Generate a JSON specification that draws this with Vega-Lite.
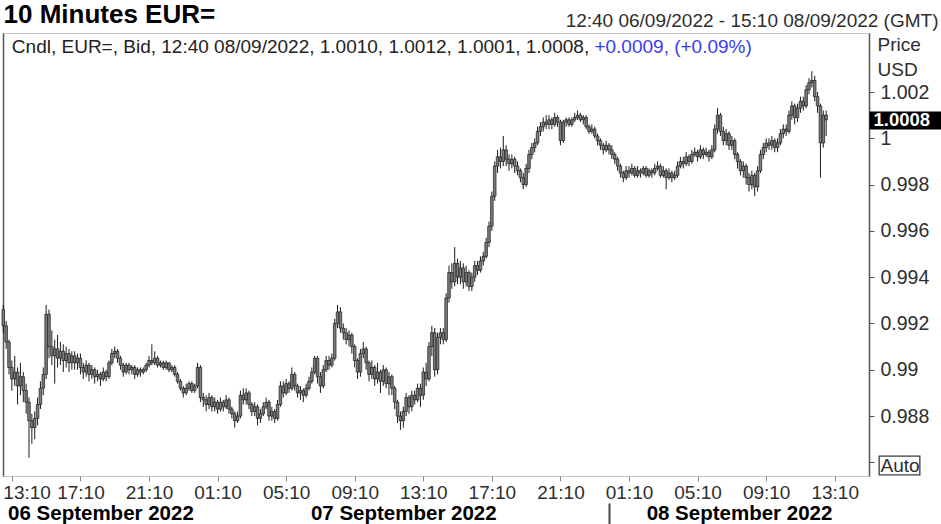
{
"$schema":"https://vega.github.io/schema/vega-lite/v6.json",
"width":866,"height":443,
"autosize":{"type":"none"},
"padding":{"left":3,"top":33,"right":72,"bottom":48},
"background":"white",
"config":{"font":"Liberation Sans","view":{"stroke":"#c4c4c4","strokeWidth":1},"axis":{"labelFont":"Liberation Sans","titleFont":"Liberation Sans","grid":false,"labelLimit":1000},"scale":{"continuousPadding":0},"text":{"font":"Liberation Sans"}},
"datasets":{
"candles":[
{"t":"2022-09-06T12:40","o":0.9926,"h":0.9928,"l":0.9916,"c":0.9919},
{"t":"2022-09-06T12:50","o":0.9919,"h":0.9921,"l":0.9909,"c":0.9912},
{"t":"2022-09-06T13:00","o":0.9912,"h":0.9913,"l":0.9898,"c":0.9901},
{"t":"2022-09-06T13:10","o":0.9901,"h":0.9904,"l":0.9891,"c":0.9896},
{"t":"2022-09-06T13:20","o":0.9896,"h":0.9906,"l":0.9893,"c":0.9899},
{"t":"2022-09-06T13:30","o":0.9899,"h":0.9901,"l":0.9885,"c":0.9893},
{"t":"2022-09-06T13:40","o":0.9893,"h":0.9903,"l":0.9889,"c":0.9897},
{"t":"2022-09-06T13:50","o":0.9897,"h":0.9899,"l":0.9886,"c":0.9891},
{"t":"2022-09-06T14:00","o":0.9891,"h":0.9894,"l":0.9881,"c":0.9886},
{"t":"2022-09-06T14:10","o":0.9886,"h":0.9888,"l":0.9862,"c":0.9878},
{"t":"2022-09-06T14:20","o":0.9878,"h":0.9881,"l":0.9868,"c":0.9875},
{"t":"2022-09-06T14:30","o":0.9875,"h":0.9882,"l":0.9870,"c":0.9879},
{"t":"2022-09-06T14:40","o":0.9879,"h":0.9888,"l":0.9876,"c":0.9885},
{"t":"2022-09-06T14:50","o":0.9885,"h":0.9895,"l":0.9883,"c":0.9892},
{"t":"2022-09-06T15:00","o":0.9892,"h":0.9901,"l":0.9889,"c":0.9898},
{"t":"2022-09-06T15:10","o":0.9898,"h":0.9928,"l":0.9896,"c":0.9924},
{"t":"2022-09-06T15:20","o":0.9924,"h":0.9926,"l":0.9905,"c":0.9910},
{"t":"2022-09-06T15:30","o":0.9910,"h":0.9917,"l":0.9902,"c":0.9906},
{"t":"2022-09-06T15:40","o":0.9906,"h":0.9913,"l":0.9894,"c":0.9909},
{"t":"2022-09-06T15:50","o":0.9909,"h":0.9915,"l":0.9901,"c":0.9905},
{"t":"2022-09-06T16:00","o":0.9905,"h":0.9912,"l":0.9902,"c":0.9908},
{"t":"2022-09-06T16:10","o":0.9908,"h":0.9911,"l":0.9899,"c":0.9904},
{"t":"2022-09-06T16:20","o":0.9904,"h":0.9910,"l":0.9901,"c":0.9907},
{"t":"2022-09-06T16:30","o":0.9907,"h":0.9909,"l":0.9899,"c":0.9903},
{"t":"2022-09-06T16:40","o":0.9903,"h":0.9908,"l":0.9900,"c":0.9906},
{"t":"2022-09-06T16:50","o":0.9906,"h":0.9908,"l":0.9900,"c":0.9903},
{"t":"2022-09-06T17:00","o":0.9903,"h":0.9907,"l":0.9900,"c":0.9905},
{"t":"2022-09-06T17:10","o":0.9905,"h":0.9907,"l":0.9898,"c":0.9901},
{"t":"2022-09-06T17:20","o":0.9901,"h":0.9903,"l":0.9896,"c":0.9899},
{"t":"2022-09-06T17:30","o":0.9899,"h":0.9904,"l":0.9897,"c":0.9902},
{"t":"2022-09-06T17:40","o":0.9902,"h":0.9903,"l":0.9895,"c":0.9898},
{"t":"2022-09-06T17:50","o":0.9898,"h":0.9902,"l":0.9896,"c":0.9900},
{"t":"2022-09-06T18:00","o":0.9900,"h":0.9901,"l":0.9894,"c":0.9897},
{"t":"2022-09-06T18:10","o":0.9897,"h":0.9900,"l":0.9895,"c":0.9898},
{"t":"2022-09-06T18:20","o":0.9898,"h":0.9899,"l":0.9893,"c":0.9896},
{"t":"2022-09-06T18:30","o":0.9896,"h":0.9901,"l":0.9895,"c":0.9899},
{"t":"2022-09-06T18:40","o":0.9899,"h":0.9900,"l":0.9895,"c":0.9897},
{"t":"2022-09-06T18:50","o":0.9897,"h":0.9904,"l":0.9896,"c":0.9903},
{"t":"2022-09-06T19:00","o":0.9903,"h":0.9909,"l":0.9902,"c":0.9907},
{"t":"2022-09-06T19:10","o":0.9907,"h":0.9910,"l":0.9905,"c":0.9908},
{"t":"2022-09-06T19:20","o":0.9908,"h":0.9909,"l":0.9903,"c":0.9905},
{"t":"2022-09-06T19:30","o":0.9905,"h":0.9906,"l":0.9900,"c":0.9902},
{"t":"2022-09-06T19:40","o":0.9902,"h":0.9903,"l":0.9897,"c":0.9899},
{"t":"2022-09-06T19:50","o":0.9899,"h":0.9903,"l":0.9898,"c":0.9902},
{"t":"2022-09-06T20:00","o":0.9902,"h":0.9903,"l":0.9898,"c":0.9900},
{"t":"2022-09-06T20:10","o":0.9900,"h":0.9902,"l":0.9898,"c":0.9901},
{"t":"2022-09-06T20:20","o":0.9901,"h":0.9902,"l":0.9896,"c":0.9898},
{"t":"2022-09-06T20:30","o":0.9898,"h":0.9901,"l":0.9897,"c":0.9900},
{"t":"2022-09-06T20:40","o":0.9900,"h":0.9901,"l":0.9897,"c":0.9899},
{"t":"2022-09-06T20:50","o":0.9899,"h":0.9901,"l":0.9898,"c":0.9900},
{"t":"2022-09-06T21:00","o":0.9900,"h":0.9903,"l":0.9899,"c":0.9902},
{"t":"2022-09-06T21:10","o":0.9902,"h":0.9906,"l":0.9901,"c":0.9904},
{"t":"2022-09-06T21:20","o":0.9904,"h":0.9911,"l":0.9902,"c":0.9903},
{"t":"2022-09-06T21:30","o":0.9903,"h":0.9908,"l":0.9902,"c":0.9905},
{"t":"2022-09-06T21:40","o":0.9905,"h":0.9906,"l":0.9901,"c":0.9902},
{"t":"2022-09-06T21:50","o":0.9902,"h":0.9904,"l":0.9901,"c":0.9903},
{"t":"2022-09-06T22:00","o":0.9903,"h":0.9904,"l":0.9900,"c":0.9901},
{"t":"2022-09-06T22:10","o":0.9901,"h":0.9904,"l":0.9900,"c":0.9903},
{"t":"2022-09-06T22:20","o":0.9903,"h":0.9903,"l":0.9899,"c":0.9900},
{"t":"2022-09-06T22:30","o":0.9900,"h":0.9902,"l":0.9899,"c":0.9901},
{"t":"2022-09-06T22:40","o":0.9901,"h":0.9902,"l":0.9897,"c":0.9898},
{"t":"2022-09-06T22:50","o":0.9898,"h":0.9899,"l":0.9894,"c":0.9895},
{"t":"2022-09-06T23:00","o":0.9895,"h":0.9896,"l":0.9891,"c":0.9892},
{"t":"2022-09-06T23:10","o":0.9892,"h":0.9893,"l":0.9888,"c":0.9890},
{"t":"2022-09-06T23:20","o":0.9890,"h":0.9894,"l":0.9889,"c":0.9892},
{"t":"2022-09-06T23:30","o":0.9892,"h":0.9895,"l":0.9891,"c":0.9894},
{"t":"2022-09-06T23:40","o":0.9894,"h":0.9895,"l":0.9890,"c":0.9891},
{"t":"2022-09-06T23:50","o":0.9891,"h":0.9894,"l":0.9890,"c":0.9893},
{"t":"2022-09-07T00:00","o":0.9893,"h":0.9903,"l":0.9892,"c":0.9901},
{"t":"2022-09-07T00:10","o":0.9901,"h":0.9902,"l":0.9886,"c":0.9888},
{"t":"2022-09-07T00:20","o":0.9888,"h":0.9890,"l":0.9884,"c":0.9887},
{"t":"2022-09-07T00:30","o":0.9887,"h":0.9889,"l":0.9882,"c":0.9885},
{"t":"2022-09-07T00:40","o":0.9885,"h":0.9890,"l":0.9883,"c":0.9888},
{"t":"2022-09-07T00:50","o":0.9888,"h":0.9889,"l":0.9882,"c":0.9884},
{"t":"2022-09-07T01:00","o":0.9884,"h":0.9888,"l":0.9882,"c":0.9886},
{"t":"2022-09-07T01:10","o":0.9886,"h":0.9887,"l":0.9881,"c":0.9883},
{"t":"2022-09-07T01:20","o":0.9883,"h":0.9888,"l":0.9882,"c":0.9886},
{"t":"2022-09-07T01:30","o":0.9886,"h":0.9887,"l":0.9882,"c":0.9884},
{"t":"2022-09-07T01:40","o":0.9884,"h":0.9889,"l":0.9883,"c":0.9887},
{"t":"2022-09-07T01:50","o":0.9887,"h":0.9888,"l":0.9881,"c":0.9883},
{"t":"2022-09-07T02:00","o":0.9883,"h":0.9884,"l":0.9879,"c":0.9881},
{"t":"2022-09-07T02:10","o":0.9881,"h":0.9882,"l":0.9875,"c":0.9878},
{"t":"2022-09-07T02:20","o":0.9878,"h":0.9882,"l":0.9877,"c":0.9880},
{"t":"2022-09-07T02:30","o":0.9880,"h":0.9891,"l":0.9879,"c":0.9889},
{"t":"2022-09-07T02:40","o":0.9889,"h":0.9892,"l":0.9885,"c":0.9887},
{"t":"2022-09-07T02:50","o":0.9887,"h":0.9892,"l":0.9885,"c":0.9890},
{"t":"2022-09-07T03:00","o":0.9890,"h":0.9891,"l":0.9883,"c":0.9885},
{"t":"2022-09-07T03:10","o":0.9885,"h":0.9886,"l":0.9880,"c":0.9882},
{"t":"2022-09-07T03:20","o":0.9882,"h":0.9886,"l":0.9880,"c":0.9884},
{"t":"2022-09-07T03:30","o":0.9884,"h":0.9885,"l":0.9876,"c":0.9879},
{"t":"2022-09-07T03:40","o":0.9879,"h":0.9883,"l":0.9877,"c":0.9881},
{"t":"2022-09-07T03:50","o":0.9881,"h":0.9886,"l":0.9880,"c":0.9884},
{"t":"2022-09-07T04:00","o":0.9884,"h":0.9888,"l":0.9883,"c":0.9886},
{"t":"2022-09-07T04:10","o":0.9886,"h":0.9887,"l":0.9878,"c":0.9880},
{"t":"2022-09-07T04:20","o":0.9880,"h":0.9884,"l":0.9878,"c":0.9882},
{"t":"2022-09-07T04:30","o":0.9882,"h":0.9883,"l":0.9877,"c":0.9879},
{"t":"2022-09-07T04:40","o":0.9879,"h":0.9887,"l":0.9878,"c":0.9885},
{"t":"2022-09-07T04:50","o":0.9885,"h":0.9895,"l":0.9884,"c":0.9893},
{"t":"2022-09-07T05:00","o":0.9893,"h":0.9895,"l":0.9888,"c":0.9890},
{"t":"2022-09-07T05:10","o":0.9890,"h":0.9896,"l":0.9889,"c":0.9894},
{"t":"2022-09-07T05:20","o":0.9894,"h":0.9895,"l":0.9890,"c":0.9892},
{"t":"2022-09-07T05:30","o":0.9892,"h":0.9901,"l":0.9891,"c":0.9898},
{"t":"2022-09-07T05:40","o":0.9898,"h":0.9899,"l":0.9891,"c":0.9893},
{"t":"2022-09-07T05:50","o":0.9893,"h":0.9894,"l":0.9888,"c":0.9890},
{"t":"2022-09-07T06:00","o":0.9890,"h":0.9893,"l":0.9887,"c":0.9891},
{"t":"2022-09-07T06:10","o":0.9891,"h":0.9892,"l":0.9886,"c":0.9889},
{"t":"2022-09-07T06:20","o":0.9889,"h":0.9894,"l":0.9888,"c":0.9892},
{"t":"2022-09-07T06:30","o":0.9892,"h":0.9897,"l":0.9891,"c":0.9895},
{"t":"2022-09-07T06:40","o":0.9895,"h":0.9901,"l":0.9894,"c":0.9899},
{"t":"2022-09-07T06:50","o":0.9899,"h":0.9906,"l":0.9898,"c":0.9905},
{"t":"2022-09-07T07:00","o":0.9905,"h":0.9906,"l":0.9894,"c":0.9897},
{"t":"2022-09-07T07:10","o":0.9897,"h":0.9899,"l":0.9890,"c":0.9893},
{"t":"2022-09-07T07:20","o":0.9893,"h":0.9902,"l":0.9892,"c":0.9900},
{"t":"2022-09-07T07:30","o":0.9900,"h":0.9906,"l":0.9899,"c":0.9904},
{"t":"2022-09-07T07:40","o":0.9904,"h":0.9906,"l":0.9900,"c":0.9902},
{"t":"2022-09-07T07:50","o":0.9902,"h":0.9907,"l":0.9901,"c":0.9905},
{"t":"2022-09-07T08:00","o":0.9905,"h":0.9922,"l":0.9904,"c":0.9920},
{"t":"2022-09-07T08:10","o":0.9920,"h":0.9928,"l":0.9918,"c":0.9925},
{"t":"2022-09-07T08:20","o":0.9925,"h":0.9927,"l":0.9916,"c":0.9918},
{"t":"2022-09-07T08:30","o":0.9918,"h":0.9920,"l":0.9913,"c":0.9916},
{"t":"2022-09-07T08:40","o":0.9916,"h":0.9918,"l":0.9911,"c":0.9913},
{"t":"2022-09-07T08:50","o":0.9913,"h":0.9917,"l":0.9910,"c":0.9915},
{"t":"2022-09-07T09:00","o":0.9915,"h":0.9916,"l":0.9907,"c":0.9910},
{"t":"2022-09-07T09:10","o":0.9910,"h":0.9911,"l":0.9901,"c":0.9904},
{"t":"2022-09-07T09:20","o":0.9904,"h":0.9905,"l":0.9896,"c":0.9899},
{"t":"2022-09-07T09:30","o":0.9899,"h":0.9909,"l":0.9897,"c":0.9907},
{"t":"2022-09-07T09:40","o":0.9907,"h":0.9912,"l":0.9905,"c":0.9909},
{"t":"2022-09-07T09:50","o":0.9909,"h":0.9910,"l":0.9900,"c":0.9903},
{"t":"2022-09-07T10:00","o":0.9903,"h":0.9904,"l":0.9895,"c":0.9898},
{"t":"2022-09-07T10:10","o":0.9898,"h":0.9904,"l":0.9896,"c":0.9901},
{"t":"2022-09-07T10:20","o":0.9901,"h":0.9902,"l":0.9893,"c":0.9896},
{"t":"2022-09-07T10:30","o":0.9896,"h":0.9903,"l":0.9894,"c":0.9899},
{"t":"2022-09-07T10:40","o":0.9899,"h":0.9900,"l":0.9890,"c":0.9895},
{"t":"2022-09-07T10:50","o":0.9895,"h":0.9902,"l":0.9893,"c":0.9900},
{"t":"2022-09-07T11:00","o":0.9900,"h":0.9901,"l":0.9892,"c":0.9894},
{"t":"2022-09-07T11:10","o":0.9894,"h":0.9899,"l":0.9889,"c":0.9897},
{"t":"2022-09-07T11:20","o":0.9897,"h":0.9898,"l":0.9889,"c":0.9892},
{"t":"2022-09-07T11:30","o":0.9892,"h":0.9893,"l":0.9883,"c":0.9886},
{"t":"2022-09-07T11:40","o":0.9886,"h":0.9887,"l":0.9877,"c":0.9880},
{"t":"2022-09-07T11:50","o":0.9880,"h":0.9882,"l":0.9874,"c":0.9878},
{"t":"2022-09-07T12:00","o":0.9878,"h":0.9884,"l":0.9875,"c":0.9882},
{"t":"2022-09-07T12:10","o":0.9882,"h":0.9890,"l":0.9880,"c":0.9888},
{"t":"2022-09-07T12:20","o":0.9888,"h":0.9889,"l":0.9881,"c":0.9884},
{"t":"2022-09-07T12:30","o":0.9884,"h":0.9891,"l":0.9882,"c":0.9889},
{"t":"2022-09-07T12:40","o":0.9889,"h":0.9891,"l":0.9885,"c":0.9887},
{"t":"2022-09-07T12:50","o":0.9887,"h":0.9894,"l":0.9886,"c":0.9892},
{"t":"2022-09-07T13:00","o":0.9892,"h":0.9894,"l":0.9884,"c":0.9889},
{"t":"2022-09-07T13:10","o":0.9889,"h":0.9901,"l":0.9887,"c":0.9899},
{"t":"2022-09-07T13:20","o":0.9899,"h":0.9903,"l":0.9893,"c":0.9896},
{"t":"2022-09-07T13:30","o":0.9896,"h":0.9912,"l":0.9895,"c":0.9910},
{"t":"2022-09-07T13:40","o":0.9910,"h":0.9919,"l":0.9906,"c":0.9916},
{"t":"2022-09-07T13:50","o":0.9916,"h":0.9918,"l":0.9897,"c":0.9900},
{"t":"2022-09-07T14:00","o":0.9900,"h":0.9916,"l":0.9898,"c":0.9914},
{"t":"2022-09-07T14:10","o":0.9914,"h":0.9918,"l":0.9911,"c":0.9916},
{"t":"2022-09-07T14:20","o":0.9916,"h":0.9918,"l":0.9911,"c":0.9913},
{"t":"2022-09-07T14:30","o":0.9913,"h":0.9933,"l":0.9912,"c":0.9931},
{"t":"2022-09-07T14:40","o":0.9931,"h":0.9945,"l":0.9929,"c":0.9942},
{"t":"2022-09-07T14:50","o":0.9942,"h":0.9946,"l":0.9935,"c":0.9938},
{"t":"2022-09-07T15:00","o":0.9938,"h":0.9953,"l":0.9936,"c":0.9946},
{"t":"2022-09-07T15:10","o":0.9946,"h":0.9948,"l":0.9937,"c":0.9940},
{"t":"2022-09-07T15:20","o":0.9940,"h":0.9947,"l":0.9937,"c":0.9944},
{"t":"2022-09-07T15:30","o":0.9944,"h":0.9946,"l":0.9935,"c":0.9938},
{"t":"2022-09-07T15:40","o":0.9938,"h":0.9945,"l":0.9936,"c":0.9942},
{"t":"2022-09-07T15:50","o":0.9942,"h":0.9943,"l":0.9934,"c":0.9936},
{"t":"2022-09-07T16:00","o":0.9936,"h":0.9942,"l":0.9934,"c":0.9940},
{"t":"2022-09-07T16:10","o":0.9940,"h":0.9947,"l":0.9938,"c":0.9945},
{"t":"2022-09-07T16:20","o":0.9945,"h":0.9947,"l":0.9941,"c":0.9943},
{"t":"2022-09-07T16:30","o":0.9943,"h":0.9949,"l":0.9942,"c":0.9947},
{"t":"2022-09-07T16:40","o":0.9947,"h":0.9951,"l":0.9945,"c":0.9949},
{"t":"2022-09-07T16:50","o":0.9949,"h":0.9957,"l":0.9948,"c":0.9955},
{"t":"2022-09-07T17:00","o":0.9955,"h":0.9964,"l":0.9953,"c":0.9962},
{"t":"2022-09-07T17:10","o":0.9962,"h":0.9977,"l":0.9960,"c":0.9975},
{"t":"2022-09-07T17:20","o":0.9975,"h":0.9990,"l":0.9973,"c":0.9988},
{"t":"2022-09-07T17:30","o":0.9988,"h":0.9995,"l":0.9985,"c":0.9992},
{"t":"2022-09-07T17:40","o":0.9992,"h":0.9996,"l":0.9987,"c":0.9990},
{"t":"2022-09-07T17:50","o":0.9990,"h":1.0001,"l":0.9988,"c":0.9995},
{"t":"2022-09-07T18:00","o":0.9995,"h":0.9997,"l":0.9988,"c":0.9991},
{"t":"2022-09-07T18:10","o":0.9991,"h":0.9993,"l":0.9986,"c":0.9989},
{"t":"2022-09-07T18:20","o":0.9989,"h":0.9993,"l":0.9987,"c":0.9991},
{"t":"2022-09-07T18:30","o":0.9991,"h":0.9992,"l":0.9985,"c":0.9988},
{"t":"2022-09-07T18:40","o":0.9988,"h":0.9990,"l":0.9984,"c":0.9986},
{"t":"2022-09-07T18:50","o":0.9986,"h":0.9987,"l":0.9981,"c":0.9983},
{"t":"2022-09-07T19:00","o":0.9983,"h":0.9985,"l":0.9978,"c":0.9980},
{"t":"2022-09-07T19:10","o":0.9980,"h":0.9989,"l":0.9979,"c":0.9987},
{"t":"2022-09-07T19:20","o":0.9987,"h":0.9995,"l":0.9985,"c":0.9993},
{"t":"2022-09-07T19:30","o":0.9993,"h":0.9998,"l":0.9991,"c":0.9996},
{"t":"2022-09-07T19:40","o":0.9996,"h":1.0000,"l":0.9994,"c":0.9998},
{"t":"2022-09-07T19:50","o":0.9998,"h":1.0005,"l":0.9997,"c":1.0003},
{"t":"2022-09-07T20:00","o":1.0003,"h":1.0007,"l":1.0001,"c":1.0005},
{"t":"2022-09-07T20:10","o":1.0005,"h":1.0009,"l":1.0003,"c":1.0007},
{"t":"2022-09-07T20:20","o":1.0007,"h":1.0010,"l":1.0004,"c":1.0006},
{"t":"2022-09-07T20:30","o":1.0006,"h":1.0010,"l":1.0004,"c":1.0008},
{"t":"2022-09-07T20:40","o":1.0008,"h":1.0009,"l":1.0004,"c":1.0006},
{"t":"2022-09-07T20:50","o":1.0006,"h":1.0011,"l":1.0005,"c":1.0009},
{"t":"2022-09-07T21:00","o":1.0009,"h":1.0010,"l":1.0005,"c":1.0007},
{"t":"2022-09-07T21:10","o":1.0007,"h":1.0008,"l":0.9997,"c":0.9999},
{"t":"2022-09-07T21:20","o":0.9999,"h":1.0008,"l":0.9998,"c":1.0007},
{"t":"2022-09-07T21:30","o":1.0007,"h":1.0009,"l":1.0005,"c":1.0008},
{"t":"2022-09-07T21:40","o":1.0008,"h":1.0009,"l":1.0005,"c":1.0006},
{"t":"2022-09-07T21:50","o":1.0006,"h":1.0009,"l":1.0005,"c":1.0008},
{"t":"2022-09-07T22:00","o":1.0008,"h":1.0011,"l":1.0007,"c":1.0009},
{"t":"2022-09-07T22:10","o":1.0009,"h":1.0012,"l":1.0008,"c":1.0010},
{"t":"2022-09-07T22:20","o":1.0010,"h":1.0011,"l":1.0007,"c":1.0008},
{"t":"2022-09-07T22:30","o":1.0008,"h":1.0010,"l":1.0006,"c":1.0009},
{"t":"2022-09-07T22:40","o":1.0009,"h":1.0010,"l":1.0004,"c":1.0005},
{"t":"2022-09-07T22:50","o":1.0005,"h":1.0006,"l":1.0002,"c":1.0003},
{"t":"2022-09-07T23:00","o":1.0003,"h":1.0006,"l":1.0002,"c":1.0004},
{"t":"2022-09-07T23:10","o":1.0004,"h":1.0005,"l":1.0000,"c":1.0001},
{"t":"2022-09-07T23:20","o":1.0001,"h":1.0002,"l":0.9997,"c":0.9999},
{"t":"2022-09-07T23:30","o":0.9999,"h":1.0000,"l":0.9995,"c":0.9997},
{"t":"2022-09-07T23:40","o":0.9997,"h":0.9998,"l":0.9993,"c":0.9995},
{"t":"2022-09-07T23:50","o":0.9995,"h":0.9999,"l":0.9994,"c":0.9997},
{"t":"2022-09-08T00:00","o":0.9997,"h":0.9998,"l":0.9993,"c":0.9995},
{"t":"2022-09-08T00:10","o":0.9995,"h":0.9997,"l":0.9991,"c":0.9993},
{"t":"2022-09-08T00:20","o":0.9993,"h":0.9994,"l":0.9989,"c":0.9991},
{"t":"2022-09-08T00:30","o":0.9991,"h":0.9992,"l":0.9986,"c":0.9988},
{"t":"2022-09-08T00:40","o":0.9988,"h":0.9989,"l":0.9983,"c":0.9985},
{"t":"2022-09-08T00:50","o":0.9985,"h":0.9986,"l":0.9981,"c":0.9983},
{"t":"2022-09-08T01:00","o":0.9983,"h":0.9988,"l":0.9982,"c":0.9986},
{"t":"2022-09-08T01:10","o":0.9986,"h":0.9988,"l":0.9983,"c":0.9985},
{"t":"2022-09-08T01:20","o":0.9985,"h":0.9989,"l":0.9984,"c":0.9987},
{"t":"2022-09-08T01:30","o":0.9987,"h":0.9988,"l":0.9983,"c":0.9984},
{"t":"2022-09-08T01:40","o":0.9984,"h":0.9988,"l":0.9983,"c":0.9986},
{"t":"2022-09-08T01:50","o":0.9986,"h":0.9987,"l":0.9983,"c":0.9985},
{"t":"2022-09-08T02:00","o":0.9985,"h":0.9988,"l":0.9984,"c":0.9987},
{"t":"2022-09-08T02:10","o":0.9987,"h":0.9988,"l":0.9983,"c":0.9984},
{"t":"2022-09-08T02:20","o":0.9984,"h":0.9987,"l":0.9983,"c":0.9986},
{"t":"2022-09-08T02:30","o":0.9986,"h":0.9987,"l":0.9983,"c":0.9985},
{"t":"2022-09-08T02:40","o":0.9985,"h":0.9989,"l":0.9984,"c":0.9987},
{"t":"2022-09-08T02:50","o":0.9987,"h":0.9990,"l":0.9986,"c":0.9988},
{"t":"2022-09-08T03:00","o":0.9988,"h":0.9989,"l":0.9983,"c":0.9984},
{"t":"2022-09-08T03:10","o":0.9984,"h":0.9988,"l":0.9983,"c":0.9986},
{"t":"2022-09-08T03:20","o":0.9986,"h":0.9987,"l":0.9978,"c":0.9983},
{"t":"2022-09-08T03:30","o":0.9983,"h":0.9987,"l":0.9982,"c":0.9985},
{"t":"2022-09-08T03:40","o":0.9985,"h":0.9986,"l":0.9981,"c":0.9983},
{"t":"2022-09-08T03:50","o":0.9983,"h":0.9986,"l":0.9982,"c":0.9984},
{"t":"2022-09-08T04:00","o":0.9984,"h":0.9990,"l":0.9983,"c":0.9988},
{"t":"2022-09-08T04:10","o":0.9988,"h":0.9992,"l":0.9987,"c":0.9990},
{"t":"2022-09-08T04:20","o":0.9990,"h":0.9992,"l":0.9987,"c":0.9989},
{"t":"2022-09-08T04:30","o":0.9989,"h":0.9994,"l":0.9988,"c":0.9992},
{"t":"2022-09-08T04:40","o":0.9992,"h":0.9993,"l":0.9988,"c":0.9990},
{"t":"2022-09-08T04:50","o":0.9990,"h":0.9995,"l":0.9989,"c":0.9993},
{"t":"2022-09-08T05:00","o":0.9993,"h":0.9996,"l":0.9992,"c":0.9994},
{"t":"2022-09-08T05:10","o":0.9994,"h":0.9995,"l":0.9990,"c":0.9992},
{"t":"2022-09-08T05:20","o":0.9992,"h":0.9997,"l":0.9991,"c":0.9995},
{"t":"2022-09-08T05:30","o":0.9995,"h":0.9996,"l":0.9991,"c":0.9993},
{"t":"2022-09-08T05:40","o":0.9993,"h":0.9996,"l":0.9992,"c":0.9994},
{"t":"2022-09-08T05:50","o":0.9994,"h":0.9995,"l":0.9990,"c":0.9992},
{"t":"2022-09-08T06:00","o":0.9992,"h":0.9997,"l":0.9991,"c":0.9995},
{"t":"2022-09-08T06:10","o":0.9995,"h":1.0006,"l":0.9994,"c":1.0004},
{"t":"2022-09-08T06:20","o":1.0004,"h":1.0013,"l":1.0002,"c":1.0010},
{"t":"2022-09-08T06:30","o":1.0010,"h":1.0011,"l":1.0001,"c":1.0003},
{"t":"2022-09-08T06:40","o":1.0003,"h":1.0005,"l":0.9997,"c":0.9999},
{"t":"2022-09-08T06:50","o":0.9999,"h":1.0004,"l":0.9997,"c":1.0002},
{"t":"2022-09-08T07:00","o":1.0002,"h":1.0003,"l":0.9995,"c":0.9997},
{"t":"2022-09-08T07:10","o":0.9997,"h":1.0001,"l":0.9995,"c":0.9999},
{"t":"2022-09-08T07:20","o":0.9999,"h":1.0000,"l":0.9991,"c":0.9993},
{"t":"2022-09-08T07:30","o":0.9993,"h":0.9994,"l":0.9987,"c":0.9990},
{"t":"2022-09-08T07:40","o":0.9990,"h":0.9991,"l":0.9984,"c":0.9986},
{"t":"2022-09-08T07:50","o":0.9986,"h":0.9990,"l":0.9983,"c":0.9988},
{"t":"2022-09-08T08:00","o":0.9988,"h":0.9989,"l":0.9980,"c":0.9983},
{"t":"2022-09-08T08:10","o":0.9983,"h":0.9985,"l":0.9977,"c":0.9980},
{"t":"2022-09-08T08:20","o":0.9980,"h":0.9986,"l":0.9978,"c":0.9984},
{"t":"2022-09-08T08:30","o":0.9984,"h":0.9985,"l":0.9975,"c":0.9979},
{"t":"2022-09-08T08:40","o":0.9979,"h":0.9988,"l":0.9977,"c":0.9986},
{"t":"2022-09-08T08:50","o":0.9986,"h":0.9995,"l":0.9985,"c":0.9993},
{"t":"2022-09-08T09:00","o":0.9993,"h":0.9998,"l":0.9991,"c":0.9996},
{"t":"2022-09-08T09:10","o":0.9996,"h":1.0000,"l":0.9994,"c":0.9998},
{"t":"2022-09-08T09:20","o":0.9998,"h":1.0000,"l":0.9995,"c":0.9997},
{"t":"2022-09-08T09:30","o":0.9997,"h":1.0001,"l":0.9995,"c":0.9999},
{"t":"2022-09-08T09:40","o":0.9999,"h":1.0000,"l":0.9994,"c":0.9996},
{"t":"2022-09-08T09:50","o":0.9996,"h":1.0000,"l":0.9994,"c":0.9998},
{"t":"2022-09-08T10:00","o":0.9998,"h":1.0004,"l":0.9997,"c":1.0002},
{"t":"2022-09-08T10:10","o":1.0002,"h":1.0006,"l":1.0000,"c":1.0004},
{"t":"2022-09-08T10:20","o":1.0004,"h":1.0006,"l":1.0001,"c":1.0003},
{"t":"2022-09-08T10:30","o":1.0003,"h":1.0012,"l":1.0002,"c":1.0010},
{"t":"2022-09-08T10:40","o":1.0010,"h":1.0016,"l":1.0008,"c":1.0014},
{"t":"2022-09-08T10:50","o":1.0014,"h":1.0015,"l":1.0006,"c":1.0009},
{"t":"2022-09-08T11:00","o":1.0009,"h":1.0015,"l":1.0007,"c":1.0013},
{"t":"2022-09-08T11:10","o":1.0013,"h":1.0018,"l":1.0011,"c":1.0016},
{"t":"2022-09-08T11:20","o":1.0016,"h":1.0018,"l":1.0012,"c":1.0014},
{"t":"2022-09-08T11:30","o":1.0014,"h":1.0023,"l":1.0013,"c":1.0021},
{"t":"2022-09-08T11:40","o":1.0021,"h":1.0026,"l":1.0019,"c":1.0024},
{"t":"2022-09-08T11:50","o":1.0024,"h":1.0029,"l":1.0022,"c":1.0025},
{"t":"2022-09-08T12:00","o":1.0025,"h":1.0027,"l":1.0016,"c":1.0018},
{"t":"2022-09-08T12:10","o":1.0018,"h":1.0020,"l":1.0011,"c":1.0014},
{"t":"2022-09-08T12:20","o":1.0014,"h":1.0015,"l":0.9983,"c":0.9998},
{"t":"2022-09-08T12:30","o":0.9998,"h":1.0012,"l":0.9996,"c":1.0010},
{"t":"2022-09-08T12:40","o":1.0010,"h":1.0012,"l":1.0001,"c":1.0008}
],
"days":[{"day":"2022-09-06T12:00"},{"day":"2022-09-07T12:00"},{"day":"2022-09-08T12:00"}],
"midnight":[{"t":"2022-09-08T00:00"}],
"range":[{"t":"2022-09-06T12:39"},{"t":"2022-09-08T15:10"}],
"last":[{"price":1.0008}],
"auto":[{"price":0.986}],
"info":[{"text":"Cndl, EUR=, Bid, 12:40 08/09/2022, 1.0010, 1.0012, 1.0001, 1.0008,"}],
"change":[{"text":"+0.0009, (+0.09%)"}]
},
"layer":[
{"data":{"name":"candles"},
 "mark":{"type":"rule","color":"#1a1a1a","strokeWidth":1},
 "encoding":{
  "x":{"field":"t","type":"temporal",
   "scale":{"padding":0,"domain":[{"year":2022,"month":9,"date":6,"hours":12,"minutes":39},{"year":2022,"month":9,"date":8,"hours":15,"minutes":10}]},
   "axis":{"orient":"bottom","title":null,"domain":false,"grid":false,
    "values":[{"year":2022,"month":9,"date":6,"hours":13,"minutes":10},{"year":2022,"month":9,"date":6,"hours":17,"minutes":10},{"year":2022,"month":9,"date":6,"hours":21,"minutes":10},{"year":2022,"month":9,"date":7,"hours":1,"minutes":10},{"year":2022,"month":9,"date":7,"hours":5,"minutes":10},{"year":2022,"month":9,"date":7,"hours":9,"minutes":10},{"year":2022,"month":9,"date":7,"hours":13,"minutes":10},{"year":2022,"month":9,"date":7,"hours":17,"minutes":10},{"year":2022,"month":9,"date":7,"hours":21,"minutes":10},{"year":2022,"month":9,"date":8,"hours":1,"minutes":10},{"year":2022,"month":9,"date":8,"hours":5,"minutes":10},{"year":2022,"month":9,"date":8,"hours":9,"minutes":10},{"year":2022,"month":9,"date":8,"hours":13,"minutes":10}],
    "format":"%H:%M","labelFontSize":19,"labelColor":"#2e2e2e","labelBaseline":"alphabetic","labelPadding":17,
    "tickSize":5,"tickColor":"#8a8a8a","tickWidth":1,"labelFlush":15,"labelFlushOffset":9,"labelOverlap":false}},
  "y":{"field":"l","type":"quantitative",
   "scale":{"domain":[0.98541,1.00455],"zero":false,"nice":false,"padding":0},
   "axis":{"orient":"right","grid":false,
    "values":[0.986,0.988,0.99,0.992,0.994,0.996,0.998,1,1.002],
    "labelExpr":"datum.value < 0.987 ? '' : format(datum.value, '~g')",
    "labelFontSize":19.5,"labelColor":"#2e2e2e","labelBaseline":"middle","labelPadding":6,
    "tickSize":5,"tickColor":"#555555","tickWidth":1,
    "domainColor":"#555555","domainWidth":1.5,"labelFlush":false,"labelOverlap":false,
    "title":["Price","USD"],"titleAngle":0,"titleAlign":"left","titleBaseline":"alphabetic",
    "titleX":8,"titleY":17,"titleFontSize":19,"titleFontWeight":"normal","titleColor":"#2e2e2e","titleLineHeight":25}},
  "y2":{"field":"h"}
 }},
{"data":{"name":"candles"},
 "mark":{"type":"bar","size":2.6,"fill":"#7c7c7c","stroke":"#1a1a1a","strokeWidth":0.7},
 "encoding":{
  "x":{"field":"t","type":"temporal","axis":null,
   "scale":{"padding":0,"domain":[{"year":2022,"month":9,"date":6,"hours":12,"minutes":39},{"year":2022,"month":9,"date":8,"hours":15,"minutes":10}]}},
  "y":{"field":"o","type":"quantitative",
   "scale":{"domain":[0.98541,1.00455],"zero":false,"nice":false,"padding":0},
   "axis":{"orient":"left","labels":false,"ticks":false,"title":null,"grid":false,"domainColor":"#555555","domainWidth":1.5}},
  "y2":{"field":"c"}
 }},
{"data":{"name":"days"},
 "mark":{"type":"point","opacity":0},
 "encoding":{
  "x":{"field":"day","type":"temporal",
   "scale":{"padding":0,"domain":[{"year":2022,"month":9,"date":6,"hours":12,"minutes":39},{"year":2022,"month":9,"date":8,"hours":15,"minutes":10}]},
   "axis":{"orient":"bottom","title":null,"domain":false,"ticks":false,"grid":false,
    "values":[{"year":2022,"month":9,"date":6,"hours":18,"minutes":20},{"year":2022,"month":9,"date":7,"hours":12,"minutes":0},{"year":2022,"month":9,"date":8,"hours":7,"minutes":35}],
    "format":"%d %B %Y","labelFontSize":20.5,"labelFontWeight":"bold","labelColor":"#000000",
    "labelBaseline":"alphabetic","labelPadding":2,"offset":41,"labelFlush":false,"labelOverlap":false,"labelLimit":1000}}
 }},
{"data":{"name":"midnight"},
 "mark":{"type":"point","opacity":0},
 "encoding":{
  "x":{"field":"t","type":"temporal",
   "scale":{"padding":0,"domain":[{"year":2022,"month":9,"date":6,"hours":12,"minutes":39},{"year":2022,"month":9,"date":8,"hours":15,"minutes":10}]},
   "axis":{"orient":"bottom","title":null,"domain":false,"labels":false,"grid":false,
    "values":[{"year":2022,"month":9,"date":8,"hours":0,"minutes":0}],
    "tickSize":21,"tickWidth":2,"tickColor":"#444444","offset":27}}
 }},
{"data":{"name":"range"},
 "mark":{"type":"point","opacity":0},
 "encoding":{
  "x":{"field":"t","type":"temporal",
   "scale":{"padding":0,"domain":[{"year":2022,"month":9,"date":6,"hours":12,"minutes":39},{"year":2022,"month":9,"date":8,"hours":15,"minutes":10}]},
   "axis":{"orient":"top","title":null,"domain":false,"ticks":false,"tickSize":0,"grid":false,
    "values":[{"year":2022,"month":9,"date":8,"hours":15,"minutes":10}],
    "labelExpr":"'12:40 06/09/2022 - 15:10 08/09/2022 (GMT)'",
    "labelFontSize":19,"labelColor":"#2e2e2e","labelAlign":"right","labelBaseline":"alphabetic",
    "labelPadding":7,"labelOffset":69,"labelFlush":false,"labelOverlap":false,"labelLimit":1000}}
 }},
{"data":{"name":"range"},
 "mark":{"type":"point","opacity":0},
 "encoding":{
  "x":{"field":"t","type":"temporal",
   "scale":{"padding":0,"domain":[{"year":2022,"month":9,"date":6,"hours":12,"minutes":39},{"year":2022,"month":9,"date":8,"hours":15,"minutes":10}]},
   "axis":{"orient":"top","title":null,"domain":false,"ticks":false,"tickSize":0,"grid":false,
    "values":[{"year":2022,"month":9,"date":6,"hours":12,"minutes":39}],
    "labelExpr":"'10 Minutes EUR='",
    "labelFontSize":26,"labelFontWeight":"bold","labelColor":"#000000","labelAlign":"left","labelBaseline":"alphabetic",
    "labelPadding":11,"labelFlush":false,"labelOverlap":false,"labelLimit":1000}}
 }},
{"data":{"name":"last"},
 "mark":{"type":"point","opacity":0},
 "encoding":{
  "y":{"field":"price","type":"quantitative",
   "scale":{"domain":[0.98541,1.00455],"zero":false,"nice":false,"padding":0},
   "axis":{"orient":"right","title":null,"domain":false,"grid":false,
    "values":[1.0008],"format":".4f",
    "tickSize":72,"tickWidth":18,"tickColor":"#000000","tickCap":"butt",
    "labelColor":"#ffffff","labelFontWeight":"bold","labelFontSize":18.5,"labelPadding":-68,
    "labelAlign":"left","labelBaseline":"middle","labelFlush":false,"labelOverlap":false}}
 }},
{"data":{"name":"auto"},
 "mark":{"type":"point","opacity":0},
 "encoding":{
  "y":{"field":"price","type":"quantitative",
   "scale":{"domain":[0.98541,1.00455],"zero":false,"nice":false,"padding":0},
   "axis":{"orient":"right","title":null,"domain":false,"grid":false,"labels":false,
    "values":[0.98588],"offset":9,
    "tickSize":42,"tickWidth":20,"tickColor":"#3c3c3c","tickCap":"butt"}}
 }},
{"data":{"name":"auto"},
 "mark":{"type":"point","opacity":0},
 "encoding":{
  "y":{"field":"price","type":"quantitative",
   "scale":{"domain":[0.98541,1.00455],"zero":false,"nice":false,"padding":0},
   "axis":{"orient":"right","title":null,"domain":false,"grid":false,
    "values":[0.98588],"offset":10.3,"labelExpr":"'Auto'",
    "tickSize":39.4,"tickWidth":17.4,"tickColor":"#ffffff","tickCap":"butt",
    "labelColor":"#2e2e2e","labelFontSize":19,"labelPadding":-38.6,
    "labelAlign":"left","labelBaseline":"middle","labelFlush":false,"labelOverlap":false}}
 }},
{"data":{"name":"info"},
 "mark":{"type":"text","align":"left","baseline":"alphabetic","fontSize":19,"color":"#222222"},
 "encoding":{
  "x":{"datum":{"year":2022,"month":9,"date":6,"hours":13,"minutes":10},"type":"temporal","axis":null,
   "scale":{"padding":0,"domain":[{"year":2022,"month":9,"date":6,"hours":12,"minutes":39},{"year":2022,"month":9,"date":8,"hours":15,"minutes":10}]}},
  "y":{"datum":1.003685,"type":"quantitative","axis":null,
   "scale":{"domain":[0.98541,1.00455],"zero":false,"nice":false,"padding":0}},
  "text":{"field":"text"}
 }},
{"data":{"name":"change"},
 "mark":{"type":"text","align":"left","baseline":"alphabetic","fontSize":19,"color":"#3a3af0"},
 "encoding":{
  "x":{"datum":{"year":2022,"month":9,"date":7,"hours":23,"minutes":9},"type":"temporal","axis":null,
   "scale":{"padding":0,"domain":[{"year":2022,"month":9,"date":6,"hours":12,"minutes":39},{"year":2022,"month":9,"date":8,"hours":15,"minutes":10}]}},
  "y":{"datum":1.003685,"type":"quantitative","axis":null,
   "scale":{"domain":[0.98541,1.00455],"zero":false,"nice":false,"padding":0}},
  "text":{"field":"text"}
 }}
],
"resolve":{"axis":{"x":"independent","y":"independent"}}
}
